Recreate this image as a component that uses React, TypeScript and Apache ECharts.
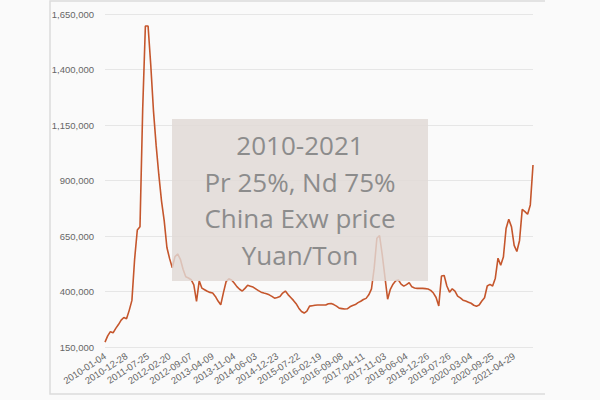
import React, { useEffect, useRef } from 'react';
import * as echarts from 'echarts';

const labelDates = [
  '2010-01-04', '2010-12-28', '2011-07-25', '2012-02-20', '2012-09-07',
  '2013-04-09', '2013-11-04', '2014-06-03', '2014-12-23', '2015-07-22',
  '2016-02-19', '2016-09-08', '2017-04-11', '2017-11-03', '2018-06-04',
  '2018-12-26', '2019-07-26', '2020-03-04', '2020-09-25', '2021-04-29',
];

const prices = [
  172000, 200000, 219000, 214000, 234000, 251000, 271000, 283000,
  277000, 315000, 360000, 545000, 677000, 692000, 1220000, 1596000,
  1596000, 1420000, 1215000, 1058000, 925000, 807000, 718000, 598000,
  548000, 507000, 557000, 569000, 545000, 500000, 466000, 461000,
  453000, 430000, 355000, 448000, 415000, 408000, 401000, 396000,
  393000, 378000, 357000, 340000, 395000, 445000, 457000, 452000,
  438000, 422000, 410000, 402000, 414000, 428000, 424000, 420000,
  412000, 404000, 397000, 393000, 390000, 385000, 378000, 370000,
  373000, 377000, 393000, 402000, 386000, 373000, 360000, 345000,
  325000, 310000, 303000, 312000, 334000, 336000, 338000, 339000,
  339000, 339000, 339000, 345000, 346000, 341000, 334000, 325000,
  323000, 321000, 322000, 331000, 337000, 341000, 350000, 356000,
  364000, 369000, 385000, 412000, 505000, 640000, 652000, 565000,
  465000, 365000, 410000, 433000, 448000, 452000, 433000, 424000,
  431000, 440000, 421000, 416000, 414000, 414000, 414000, 413000,
  411000, 405000, 393000, 373000, 335000, 470000, 472000, 425000,
  397000, 412000, 402000, 379000, 371000, 361000, 357000, 352000,
  347000, 338000, 334000, 339000, 357000, 372000, 425000, 432000,
  425000, 460000, 550000, 518000, 555000, 684000, 725000, 692000,
  608000, 580000, 630000, 770000, 760000, 748000, 790000, 970000,
];

const yTicks = [150000, 400000, 650000, 900000, 1150000, 1400000, 1650000];

const titleLines = ['2010-2021', 'Pr 25%, Nd 75%', 'China Exw price', 'Yuan/Ton'];

const STEP = 8;

function fmt(t: number) {
  const d = new Date(t);
  const m = String(d.getUTCMonth() + 1).padStart(2, '0');
  const day = String(d.getUTCDate()).padStart(2, '0');
  return `${d.getUTCFullYear()}-${m}-${day}`;
}

function buildCategories(): string[] {
  const out: string[] = [];
  const ts = labelDates.map((s) => Date.parse(s + 'T00:00:00Z'));
  for (let k = 0; k < ts.length - 1; k++) {
    out.push(labelDates[k]);
    for (let j = 1; j < STEP; j++) {
      out.push(fmt(ts[k] + ((ts[k + 1] - ts[k]) * j) / STEP));
    }
  }
  out.push(labelDates[labelDates.length - 1]);
  const last = ts[ts.length - 1];
  let i = 1;
  while (out.length < prices.length) {
    out.push(fmt(last + i * 27 * 86400000));
    i++;
  }
  return out;
}

export default function App() {
  const ref = useRef<HTMLDivElement>(null);
  useEffect(() => {
    if (!ref.current) return;
    const chart = echarts.init(ref.current, undefined, { renderer: 'svg' });
    const categories = buildCategories();
    const labelFont = "'Liberation Sans', Arial, sans-serif";
    chart.setOption({
      animation: false,
      backgroundColor: '#fafafa',
      grid: { left: 105, right: 67, top: 14, bottom: 53 },
      xAxis: {
        type: 'category',
        boundaryGap: false,
        data: categories,
        axisLine: { show: false },
        axisTick: { show: false },
        splitLine: { show: false },
        axisLabel: {
          interval: STEP - 1,
          rotate: 33,
          fontSize: 9.5,
          color: '#666',
          margin: 8,
          fontFamily: labelFont,
        },
      },
      yAxis: {
        type: 'value',
        min: 150000,
        max: 1650000,
        axisLine: { show: false },
        axisTick: { show: false, customValues: yTicks },
        axisLabel: {
          customValues: yTicks,
          fontSize: 9.5,
          color: '#666',
          margin: 11,
          fontFamily: labelFont,
          formatter: (v: number) => v.toLocaleString('en-US'),
        },
        splitLine: { show: true, lineStyle: { color: '#e6e6e6', width: 1 } },
      },
      series: [
        {
          type: 'line',
          data: prices,
          showSymbol: false,
          silent: true,
          lineStyle: { color: '#c5562c', width: 1.6 },
        },
      ],
      graphic: [
        {
          type: 'polyline',
          shape: { points: [[545, 1], [50, 1], [50, 394], [545, 394]] },
          style: { stroke: '#dcdcdc', lineWidth: 1.5, fill: null },
          z: 1,
        },
        {
          type: 'rect',
          shape: { x: 172, y: 119, width: 256, height: 162 },
          style: { fill: 'rgba(224,217,214,0.82)' },
          z: 100,
        },
        ...titleLines.map((t, i) => ({
          type: 'text',
          z: 101,
          style: {
            text: t,
            x: 300,
            y: 145 + i * 36.7,
            align: 'center',
            verticalAlign: 'middle',
            fontSize: 26,
            fontFamily: "'Open Sans', sans-serif",
            fill: '#8c8c8c',
          },
        })),
      ],
    });
    return () => chart.dispose();
  }, []);
  return (
    <div
      ref={ref}
      style={{ position: 'fixed', left: 0, top: 0, width: 600, height: 400 }}
    />
  );
}
